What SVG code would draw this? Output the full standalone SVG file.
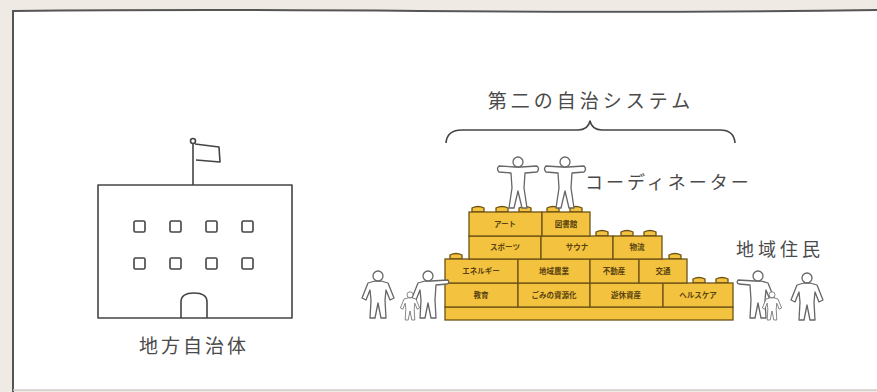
<svg xmlns="http://www.w3.org/2000/svg" width="877" height="392" viewBox="0 0 877 392">
  <style>
    .label { font-family: "Noto Sans CJK JP", "Noto Sans", sans-serif; fill: #4a4a4a; }
    .blk { fill: #f3c33f; stroke: #6e5214; stroke-width: 1.3; }
    .btx { font-family: "Noto Sans CJK JP", sans-serif; font-size: 7.5px; font-weight: bold; fill: #5a4210; text-anchor: middle; }
    .line { fill: none; stroke: #444; stroke-width: 1.6; stroke-linejoin: round; }
    .person { fill: #fff; stroke: #666; stroke-width: 1.3; stroke-linejoin: round; }
  </style>
  <defs>
    <!-- stud on top of a brick -->
    <g id="stud">
      <path class="blk" d="M-6,0 L-6,-4 Q0,-7 6,-4 L6,0 Z"/>
    </g>
    <!-- figure with arms spread -->
    <g id="tpose">
      <path class="person" d="M-3,-41 L-19,-42 Q-22,-39 -19,-36 L-7,-35 L-6,-20 L-9,0 L-4,0 L0,-17 L4,0 L9,0 L6,-20 L7,-35 L19,-36 Q22,-39 19,-42 L3,-41 Z"/>
      <circle class="person" cx="0" cy="-46" r="5"/>
    </g>
    <!-- standing figure -->
    <g id="stand">
      <path class="person" d="M-3,-37 L-10,-35 L-16,-20 L-12,-18 L-8,-28 L-7,-18 L-8,0 L-3,0 L0,-15 L3,0 L8,0 L7,-18 L8,-28 L12,-18 L16,-20 L10,-35 L3,-37 Z"/>
      <circle class="person" cx="0" cy="-42" r="5"/>
    </g>
    <!-- figure pointing to the left -->
    <g id="point">
      <path class="person" d="M-3,-37 L-20,-38 Q-22,-35 -19,-34 L-8,-33 L-7,-18 L-8,0 L-3,0 L0,-15 L3,0 L8,0 L7,-18 L8,-28 L12,-18 L16,-20 L10,-35 L3,-37 Z"/>
      <circle class="person" cx="0" cy="-42" r="5"/>
    </g>
  </defs>

  <!-- page background and panel -->
  <rect x="0" y="0" width="877" height="392" fill="#efeae3"/>
  <rect x="13" y="10" width="870" height="380" fill="#fff"/>
  <path d="M13,392 L13,11 Q200,9 420,11 T877,10" fill="none" stroke="#555" stroke-width="2"/>
  <path d="M13,390 L877,390" fill="none" stroke="#ccc" stroke-width="1.5"/>

  <!-- local government building -->
  <g id="local-government">
    <line class="line" x1="193" y1="143" x2="193" y2="185"/>
    <circle class="line" cx="193" cy="141" r="2.5"/>
    <path class="line" d="M195,144 L219,147 L220,162 L196,160"/>
    <rect class="line" x="98" y="185" width="194" height="133"/>
    <g class="line">
      <rect x="134" y="221" width="11" height="11" rx="1.5"/>
      <rect x="170" y="221" width="11" height="11" rx="1.5"/>
      <rect x="206" y="221" width="11" height="11" rx="1.5"/>
      <rect x="242" y="221" width="11" height="11" rx="1.5"/>
      <rect x="134" y="258" width="11" height="11" rx="1.5"/>
      <rect x="170" y="258" width="11" height="11" rx="1.5"/>
      <rect x="206" y="258" width="11" height="11" rx="1.5"/>
      <rect x="242" y="258" width="11" height="11" rx="1.5"/>
    </g>
    <path class="line" d="M181,318 L181,302 Q181,293 194,293 Q207,293 207,302 L207,318"/>
    <text class="label" x="194" y="353" font-size="19" letter-spacing="3" text-anchor="middle">地方自治体</text>
  </g>

  <!-- brace and title over the brick stack -->
  <g id="second-autonomy-title">
    <path class="line" stroke="#555" d="M446,143 Q447,130 462,130 L578,130 Q588,130 590,121 Q592,130 602,130 L720,130 Q734,130 735,143"/>
    <text class="label" x="591" y="108" font-size="19" letter-spacing="4" text-anchor="middle">第二の自治システム</text>
  </g>

  <!-- brick stack -->
  <g id="bricks">
    <!-- studs on exposed tops -->
    <use href="#stud" x="478" y="212"/>
    <use href="#stud" x="502" y="212"/>
    <use href="#stud" x="525" y="212"/>
    <use href="#stud" x="553" y="212"/>
    <use href="#stud" x="576" y="212"/>
    <use href="#stud" x="602" y="236"/>
    <use href="#stud" x="627" y="236"/>
    <use href="#stud" x="650" y="236"/>
    <use href="#stud" x="456" y="259"/>
    <use href="#stud" x="675" y="259"/>
    <use href="#stud" x="699" y="283"/>
    <use href="#stud" x="722" y="283"/>

    <!-- base plate -->
    <rect class="blk" x="445" y="307" width="288" height="13"/>
    <!-- row 4 -->
    <rect class="blk" x="445" y="283" width="73" height="24"/>
    <rect class="blk" x="518" y="283" width="72" height="24"/>
    <rect class="blk" x="590" y="283" width="73" height="24"/>
    <rect class="blk" x="663" y="283" width="70" height="24"/>
    <!-- row 3 -->
    <rect class="blk" x="445" y="259" width="73" height="24"/>
    <rect class="blk" x="518" y="259" width="72" height="24"/>
    <rect class="blk" x="590" y="259" width="49" height="24"/>
    <rect class="blk" x="639" y="259" width="48" height="24"/>
    <!-- row 2 -->
    <rect class="blk" x="469" y="236" width="72" height="23"/>
    <rect class="blk" x="541" y="236" width="72" height="23"/>
    <rect class="blk" x="613" y="236" width="49" height="23"/>
    <!-- row 1 -->
    <rect class="blk" x="469" y="212" width="73" height="24"/>
    <rect class="blk" x="542" y="212" width="48" height="24"/>

    <text class="btx" x="505" y="227">アート</text>
    <text class="btx" x="566" y="227">図書館</text>
    <text class="btx" x="505" y="250">スポーツ</text>
    <text class="btx" x="577" y="250">サウナ</text>
    <text class="btx" x="637" y="250">物流</text>
    <text class="btx" x="481" y="274">エネルギー</text>
    <text class="btx" x="554" y="274">地域農業</text>
    <text class="btx" x="614" y="274">不動産</text>
    <text class="btx" x="663" y="274">交通</text>
    <text class="btx" x="481" y="298">教育</text>
    <text class="btx" x="554" y="298">ごみの資源化</text>
    <text class="btx" x="626" y="298">遊休資産</text>
    <text class="btx" x="698" y="298">ヘルスケア</text>
  </g>

  <!-- coordinators standing on the stack -->
  <g id="coordinators">
    <use href="#tpose" x="518" y="208"/>
    <use href="#tpose" x="565" y="208"/>
    <text class="label" x="585" y="189" font-size="18" letter-spacing="3">コーディネーター</text>
  </g>

  <!-- residents on the left -->
  <g id="residents-left">
    <use href="#stand" x="378" y="318"/>
    <g transform="translate(428,318) scale(-1,1)"><use href="#point"/></g>
    <g transform="translate(410,320) scale(0.6)"><use href="#stand"/></g>
  </g>

  <!-- residents on the right -->
  <g id="residents-right">
    <use href="#point" x="758" y="318"/>
    <g transform="translate(772,320) scale(0.6)"><use href="#stand"/></g>
    <use href="#stand" x="807" y="320"/>
    <text class="label" x="736" y="256" font-size="18" letter-spacing="4">地域住民</text>
  </g>
</svg>
